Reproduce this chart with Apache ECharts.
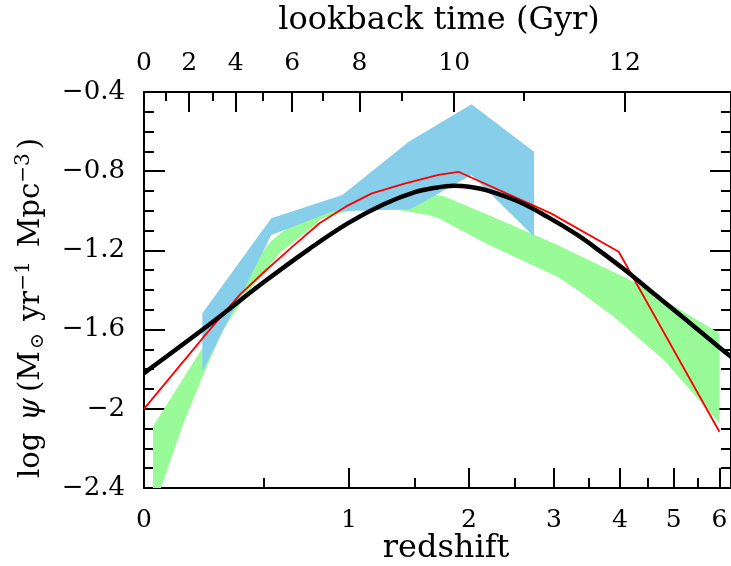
<!DOCTYPE html>
<html><head><meta charset="utf-8">
<script src="https://cdn.jsdelivr.net/npm/echarts@6/dist/echarts.min.js"></script>
<style>html,body{margin:0;padding:0;background:#fff}#c{width:731px;height:566px}</style>
</head><body><div id="c"></div>
<script>
// ---- axis ticks ----
const zMajorTicks = [0, 1, 2, 3, 4, 5, 6];
const zMinorTicks = [0.5, 1.5, 2.5, 3.5, 4.5, 5.5];
const zAxisMax = 6.28;
const lookbackMajorLabels = ['0', '2', '4', '6', '8', '10', '12'];
const lookbackMajorZ = [0, 0.165, 0.364, 0.650, 1.072, 1.855, 4.086];
const lookbackMinorZ = [0.078, 0.260, 0.496, 0.832, 1.393, 2.606];
const yMin = -2.4, yMax = -0.4, yStep = 0.4;

// ---- green band ----
const greenTopZ = [0.031, 0.218, 0.38, 0.54, 0.7, 0.9, 1.2, 1.5, 1.75, 2.2, 3.05, 4.24, 6.0];
const greenTopY = [-2.09, -1.693, -1.35, -1.15, -1.03, -0.96, -0.91, -0.905, -0.925, -1.02, -1.173, -1.358, -1.619];
const greenBotZ = [0.031, 0.059, 0.143, 0.218, 0.307, 0.43, 0.581, 0.768, 0.829, 1.0, 1.3, 1.617, 1.707, 2.2, 3.05, 3.33, 3.9, 4.8, 6.0];
const greenBotY = [-2.52, -2.40, -2.073, -1.84, -1.60, -1.40, -1.215, -1.08, -1.038, -1.0, -0.99, -1.021, -1.038, -1.17, -1.333, -1.40, -1.535, -1.754, -2.073];

// ---- blue band ----
const blueTopZ = [0.218, 0.538, 0.956, 1.448, 2.027, 2.74];
const blueTopY = [-1.517, -1.038, -0.92, -0.651, -0.462, -0.702];
const blueBotZ = [0.218, 0.538, 0.89, 1.46, 2.027, 2.74];
const blueBotY = [-1.812, -1.122, -1.003, -0.992, -0.819, -1.131];

// ---- red line ----
const redZ = [0, 0.236, 0.382, 0.512, 0.652, 0.81, 0.978, 1.161, 1.42, 1.707, 1.896, 2.96, 3.98, 6.0];
const redY = [-2.0, -1.619, -1.425, -1.299, -1.181, -1.063, -0.979, -0.912, -0.861, -0.819, -0.803, -1.013, -1.207, -2.116];

// ---- black fit ----
const blackZ = [0, 0.25, 0.5, 0.75, 1.0, 1.25, 1.5, 1.7, 1.85, 2.0, 2.17, 2.54, 2.92, 3.33, 3.7, 4.12, 4.6, 5.2, 6.0, 6.5];
const blackY = [-1.82, -1.572, -1.36, -1.192, -1.06, -0.967, -0.906, -0.882, -0.874, -0.878, -0.894, -0.952, -1.032, -1.122, -1.21, -1.307, -1.417, -1.54, -1.69, -1.77];

const lx = z => Math.log10(1 + z);
const pts = (zs, ys) => zs.map((z, i) => [lx(z), ys[i]]);
const FONT = 'DejaVu Serif';
const XMAX = lx(zAxisMax);

function band(topZ, topY, botZ, botY, color, zl) {
  const top = pts(topZ, topY), bot = pts(botZ, botY);
  return {
    type: 'custom', clip: true, silent: true, z: zl,
    xAxisIndex: 0, yAxisIndex: 0,
    data: [[0.1, -1]],
    renderItem: (params, api) => {
      const poly = top.concat(bot.slice().reverse()).map(p => api.coord(p));
      return { type: 'polygon', shape: { points: poly }, style: { fill: color, stroke: null } };
    }
  };
}

const tickStyle = { color: '#000', width: 2 };
function xAx(pos, ticksZ, len, labels) {
  return {
    type: 'value', position: pos, min: 0, max: XMAX,
    axisLine: { show: labels !== null, onZero: false, lineStyle: tickStyle },
    axisTick: { show: true, inside: true, length: len, lineStyle: tickStyle, customValues: ticksZ.map(lx) },
    axisLabel: labels === null ? { show: false } : {
      show: true, customValues: ticksZ.map(lx), margin: pos === 'bottom' ? 19 : 16,
      fontFamily: FONT, fontSize: 25, color: '#000',
      rich: { a: { fontFamily: FONT, fontSize: 25, color: '#000', lineHeight: 26 } },
      formatter: v => { let bi = 0, bd = 1e9; ticksZ.forEach((z, i) => { const d = Math.abs(lx(z) - v); if (d < bd) { bd = d; bi = i; } }); return '{a|' + labels[bi] + '}'; }
    },
    splitLine: { show: false }
  };
}

const chart = echarts.init(document.getElementById('c'), null, { renderer: 'canvas' });
chart.setOption({
  backgroundColor: '#fff',
  animation: false,
  grid: { left: 144, right: -4, top: 92, bottom: 78, containLabel: false },
  xAxis: [
    xAx('bottom', zMajorTicks, 20, zMajorTicks.map(String)),
    xAx('bottom', zMinorTicks, 10, null),
    xAx('top', lookbackMajorZ, 20, lookbackMajorLabels),
    xAx('top', lookbackMinorZ, 9, null)
  ],
  yAxis: [0, 1].map(i => ({
    type: 'value', position: i === 0 ? 'left' : 'right', min: yMin, max: yMax, interval: yStep,
    axisLine: { show: true, onZero: false, lineStyle: tickStyle },
    axisTick: { show: true, inside: true, length: 21, lineStyle: tickStyle },
    minorTick: { show: true, splitNumber: 4, length: 10, lineStyle: tickStyle },
    axisLabel: i === 0 ? {
      show: true, margin: 19, fontFamily: FONT, fontSize: 26, color: '#000',
      formatter: v => String(Math.round(v * 10) / 10).replace('-', '\u2212')
    } : { show: false },
    splitLine: { show: false }
  })),
  series: [
    band(greenTopZ, greenTopY, greenBotZ, greenBotY, '#98FB98', 1),
    band(blueTopZ, blueTopY, blueBotZ, blueBotY, '#87CEEB', 2),
    { type: 'line', data: pts(redZ, redY), showSymbol: false, symbol: 'none', z: 3,
      lineStyle: { color: '#FF0000', width: 1.8 } },
    { type: 'line', data: pts(blackZ, blackY), showSymbol: false, symbol: 'none', smooth: 0.4, z: 4,
      lineStyle: { color: '#000', width: 4.5 } }
  ],
  graphic: [
    { type: 'text', x: 439, y: 21, style: { text: 'lookback time (Gyr)', font: '32px "DejaVu Serif"', fill: '#000', align: 'center', verticalAlign: 'middle' } },
    { type: 'text', x: 446, y: 549, style: { text: 'redshift', font: '32px "DejaVu Serif"', fill: '#000', align: 'center', verticalAlign: 'middle' } },
    { type: 'text', x: 31, y: 478, rotation: Math.PI / 2,
      style: {
        text: '{n1|log}{i|\u03c8}{n0|(M}{sub|\u2299}{n2|yr}{sup1|\u22121}{n0|Mpc}{sup2|\u22123}{n0|)}',
        align: 'left', verticalAlign: 'middle', fill: '#000',
        rich: {
          n0: { fontFamily: FONT, fontSize: 29, color: '#000', lineHeight: 34 },
          n1: { fontFamily: FONT, fontSize: 29, color: '#000', lineHeight: 34, padding: [0, 12, 0, 0] },
          n2: { fontFamily: FONT, fontSize: 29, color: '#000', lineHeight: 34, padding: [0, 0, 0, 0] },
          i: { fontFamily: FONT, fontSize: 29, fontStyle: 'italic', color: '#000', lineHeight: 34, padding: [0, 6, 0, 0] },
          sup1: { fontFamily: FONT, fontSize: 20, color: '#000', verticalAlign: 'top', lineHeight: 34, padding: [0, 14, 0, 0] },
          sup2: { fontFamily: FONT, fontSize: 20, color: '#000', verticalAlign: 'top', lineHeight: 34, padding: [0, 4, 0, 0] },
          sub: { fontFamily: FONT, fontSize: 19, color: '#000', verticalAlign: 'bottom', lineHeight: 34, padding: [0, 12, 0, 2] }
        }
      } }
  ]
});
</script></body></html>
